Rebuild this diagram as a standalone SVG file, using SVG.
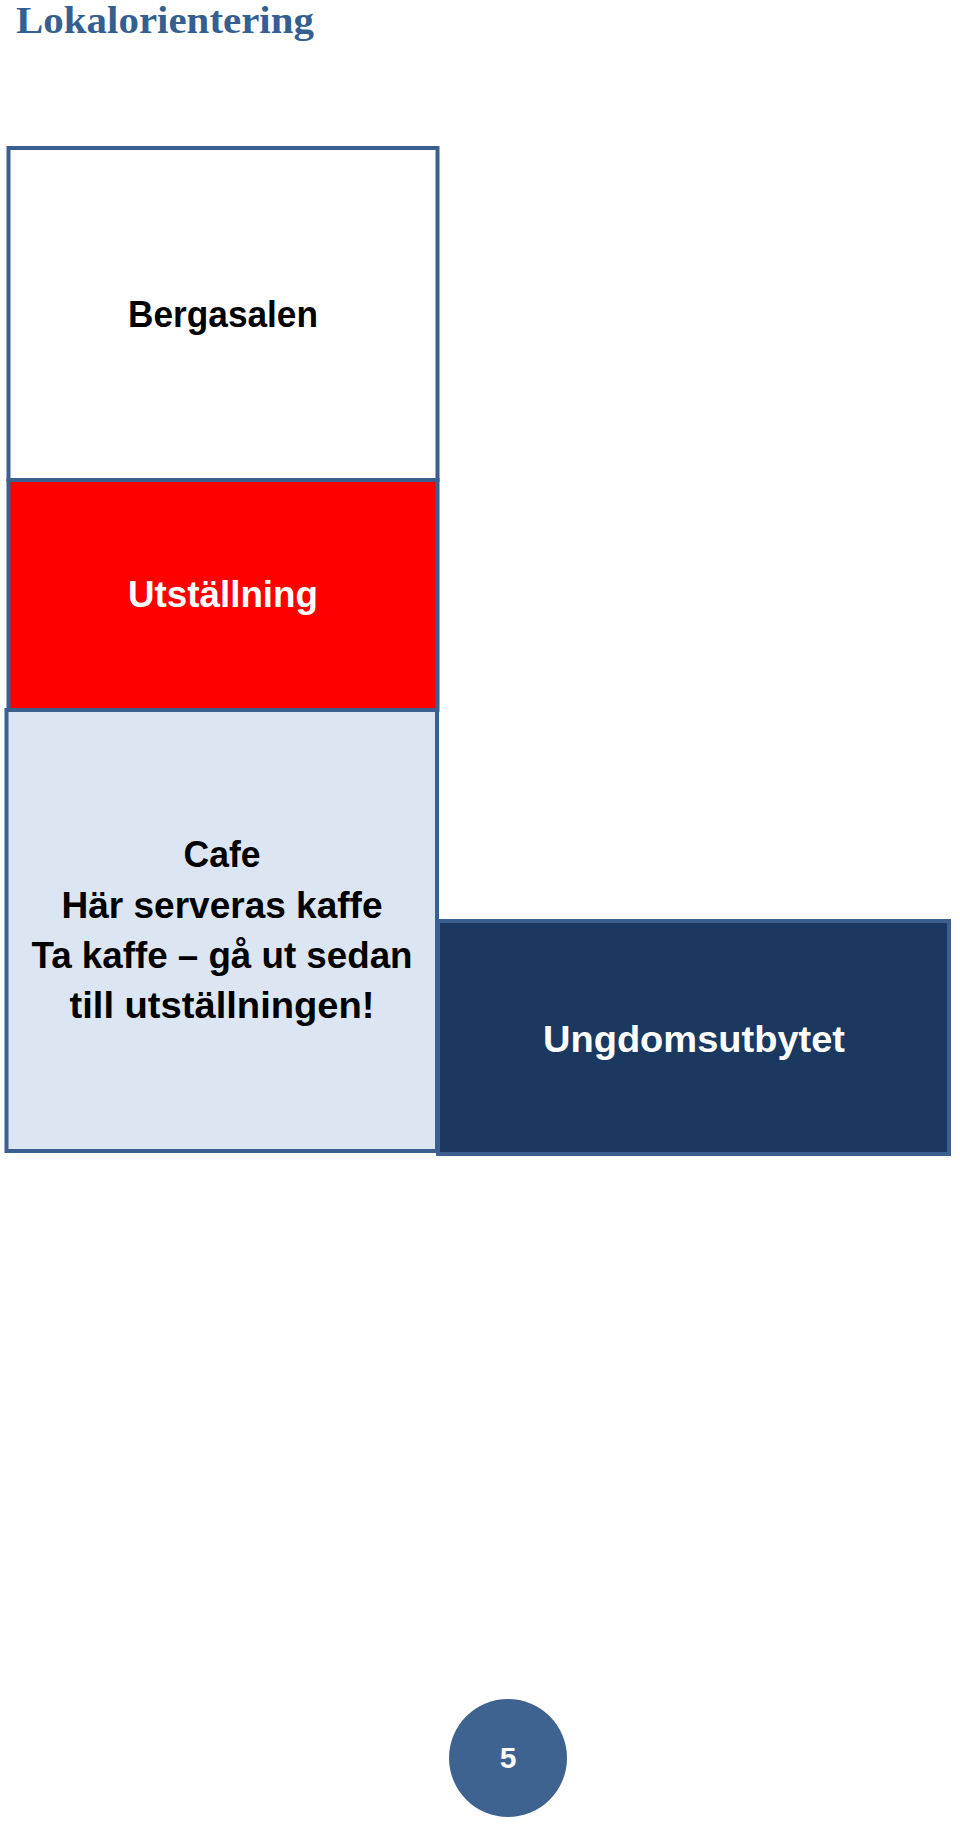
<svg xmlns="http://www.w3.org/2000/svg" width="960" height="1827" viewBox="0 0 960 1827">
<style>
.box{stroke:#3b5f8e;stroke-width:4}
.lbl{font-family:"Liberation Sans",Arial,sans-serif;font-weight:bold;font-size:36px;text-anchor:middle}
</style>
<rect width="960" height="1827" fill="#ffffff"/>
<text x="16" y="33" font-family="'Liberation Serif','Times New Roman',serif" font-weight="bold" font-size="37" fill="#365f91" textLength="298" lengthAdjust="spacingAndGlyphs">Lokalorientering</text>
<g id="bergasalen">
<rect class="box" x="8.5" y="148" width="429" height="332" fill="#ffffff"/>
<text class="lbl" x="223" y="327" fill="#000000" textLength="190" lengthAdjust="spacingAndGlyphs">Bergasalen</text>
</g>
<g id="utstallning">
<rect class="box" x="8.5" y="480" width="429" height="230" fill="#ff0000"/>
<text class="lbl" x="223" y="607" fill="#ffffff" textLength="190" lengthAdjust="spacingAndGlyphs">Utställning</text>
</g>
<g id="cafe">
<rect class="box" x="6.5" y="710" width="430.5" height="441" fill="#dce6f2"/>
<text class="lbl" x="222" y="867" fill="#000000" textLength="77" lengthAdjust="spacingAndGlyphs">Cafe</text>
<text class="lbl" x="222" y="918" fill="#000000" textLength="321" lengthAdjust="spacingAndGlyphs">Här serveras kaffe</text>
<text class="lbl" x="222" y="968" fill="#000000" textLength="381" lengthAdjust="spacingAndGlyphs">Ta kaffe – gå ut sedan</text>
<text class="lbl" x="222" y="1018" fill="#000000" textLength="305" lengthAdjust="spacingAndGlyphs">till utställningen!</text>
</g>
<g id="ungdomsutbytet">
<rect class="box" x="438" y="921" width="511" height="233" fill="#1a3860"/>
<text class="lbl" x="694" y="1052" fill="#ffffff" textLength="302" lengthAdjust="spacingAndGlyphs">Ungdomsutbytet</text>
</g>
<g id="connectors"></g>
<g id="page-number">
<circle cx="508" cy="1758" r="59" fill="#3f6391"/>
<text x="508" y="1768" font-family="'Liberation Sans',Arial,sans-serif" font-weight="bold" font-size="30" fill="#ffffff" text-anchor="middle">5</text>
</g>
</svg>
